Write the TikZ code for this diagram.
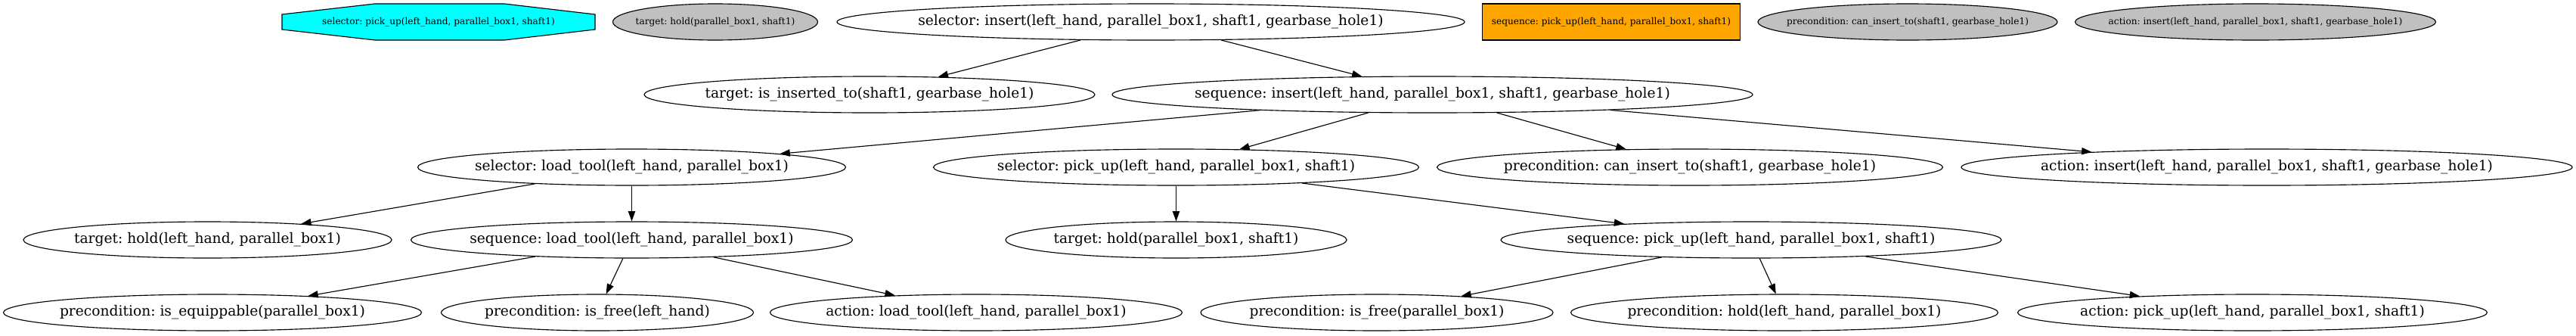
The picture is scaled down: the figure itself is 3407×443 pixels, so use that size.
\documentclass[tikz,border=0pt]{standalone}
\usepackage{fontspec}
\setmainfont{DejaVu Serif}
\usetikzlibrary{shapes.geometric,arrows.meta}
\definecolor{gvgray}{HTML}{C0C0C0}
\definecolor{gvorange}{HTML}{FFA500}
\definecolor{gvcyan}{HTML}{00FFFF}
\newcommand{\gvt}[1]{\makebox[0pt][c]{\frenchspacing #1}}
\frenchspacing
\begin{document}
\begin{tikzpicture}[x=0.75pt,y=-0.75pt,
  gvnode/.style={ellipse, draw, line width=0.85pt, inner sep=0pt, minimum height=36pt,
    font=\fontsize{14pt}{16.8pt}\selectfont},
  gw/.style={minimum width=#1*0.75pt},
  legendfont/.style={font=\fontsize{9.1pt}{11pt}\selectfont},
  legendell/.style={gvnode, fill=gvgray, legendfont},
  legendbox/.style={rectangle, draw, line width=0.85pt, inner sep=0pt, minimum height=36pt, fill=gvorange, legendfont},
  octline/.style={draw, line width=0.85pt, fill=gvcyan},
  gvedge/.style={line width=0.85pt, -{Triangle[length=10pt,width=7pt]}}]
\useasboundingbox (0,0) rectangle (3407,443);

% ---- legend row ----
\path[octline] (373,19) -- (496,5) -- (667,5) -- (787,19) -- (787,39) -- (667,53) -- (496,53) -- (373,39) -- cycle;
\node[legendfont, inner sep=0pt] (lsel) at (580,29) {\gvt{selector: pick\_up(left\_hand, parallel\_box1, shaft1)}};
\node[legendell, gw=271] (ltgt) at (946,29) {\gvt{target: hold(parallel\_box1, shaft1)}};
\node[legendbox, gw=341] (lseq) at (2131,29) {\gvt{sequence: pick\_up(left\_hand, parallel\_box1, shaft1)}};
\node[legendell, gw=396] (lpre) at (2523,29) {\gvt{precondition: can\_insert\_to(shaft1, gearbase\_hole1)}};
\node[legendell, gw=477] (lact) at (2983,29) {\gvt{action: insert(left\_hand, parallel\_box1, shaft1, gearbase\_hole1)}};

% ---- tree ----
\node[gvnode, gw=830] (selins) at (1522,29) {\gvt{selector: insert(left\_hand, parallel\_box1, shaft1, gearbase\_hole1)}};

\node[gvnode, gw=596] (tgtins) at (1150,125) {\gvt{target: is\_inserted\_to(shaft1, gearbase\_hole1)}};
\node[gvnode, gw=847] (seqins) at (1894.5,125) {\gvt{sequence: insert(left\_hand, parallel\_box1, shaft1, gearbase\_hole1)}};

\node[gvnode, gw=566] (selload) at (835.5,221) {\gvt{selector: load\_tool(left\_hand, parallel\_box1)}};
\node[gvnode, gw=642] (selpick) at (1555.5,221) {\gvt{selector: pick\_up(left\_hand, parallel\_box1, shaft1)}};
\node[gvnode, gw=669] (precan) at (2235,221) {\gvt{precondition: can\_insert\_to(shaft1, gearbase\_hole1)}};
\node[gvnode, gw=808] (actins) at (2998,221) {\gvt{action: insert(left\_hand, parallel\_box1, shaft1, gearbase\_hole1)}};

\node[gvnode, gw=487] (tgthold) at (274.5,317) {\gvt{target: hold(left\_hand, parallel\_box1)}};
\node[gvnode, gw=584] (seqload) at (835.5,317) {\gvt{sequence: load\_tool(left\_hand, parallel\_box1)}};
\node[gvnode, gw=451] (tgtholdpb) at (1555.5,317) {\gvt{target: hold(parallel\_box1, shaft1)}};
\node[gvnode, gw=662] (seqpick) at (2316,317) {\gvt{sequence: pick\_up(left\_hand, parallel\_box1, shaft1)}};

\node[gvnode, gw=553] (preequip) at (281,413) {\gvt{precondition: is\_equippable(parallel\_box1)}};
\node[gvnode, gw=413] (prefreelh) at (790,413) {\gvt{precondition: is\_free(left\_hand)}};
\node[gvnode, gw=545] (actload) at (1291,413) {\gvt{action: load\_tool(left\_hand, parallel\_box1)}};
\node[gvnode, gw=466] (prefreepb) at (1821,413) {\gvt{precondition: is\_free(parallel\_box1)}};
\node[gvnode, gw=565] (prehold) at (2360,413) {\gvt{precondition: hold(left\_hand, parallel\_box1)}};
\node[gvnode, gw=621] (actpick) at (2979,413) {\gvt{action: pick\_up(left\_hand, parallel\_box1, shaft1)}};

% ---- edges ----
\draw[gvedge] (selins) -- (tgtins);
\draw[gvedge] (selins) -- (seqins);
\draw[gvedge] (seqins) -- (selload);
\draw[gvedge] (seqins) -- (selpick);
\draw[gvedge] (seqins) -- (precan);
\draw[gvedge] (seqins) -- (actins);
\draw[gvedge] (selload) -- (tgthold);
\draw[gvedge] (selload) -- (seqload);
\draw[gvedge] (selpick) -- (tgtholdpb);
\draw[gvedge] (selpick) -- (seqpick);
\draw[gvedge] (seqload) -- (preequip);
\draw[gvedge] (seqload) -- (prefreelh);
\draw[gvedge] (seqload) -- (actload);
\draw[gvedge] (seqpick) -- (prefreepb);
\draw[gvedge] (seqpick) -- (prehold);
\draw[gvedge] (seqpick) -- (actpick);
\end{tikzpicture}
\end{document}
